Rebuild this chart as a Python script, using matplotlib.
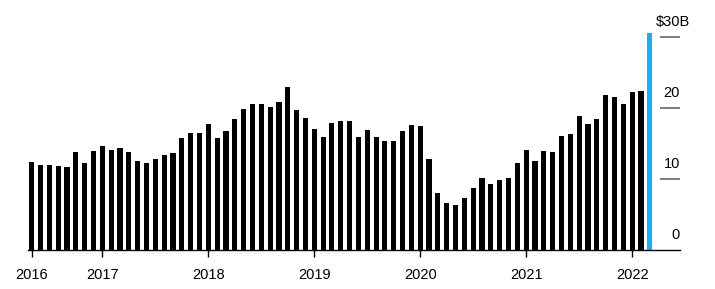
import numpy as np
import matplotlib.pyplot as plt

plt.rcParams['font.family'] = ['Liberation Sans', 'DejaVu Sans']

# monthly values, May 2016 - Mar 2022 ($B)
values = [12.4, 12.0, 12.0, 11.9, 11.7, 13.8, 12.3, 13.9,
          14.7, 14.1, 14.4, 13.8, 12.6, 12.2, 12.8, 13.4, 13.7, 15.8, 16.5, 16.5,
          17.7, 15.8, 16.7, 18.4, 19.9, 20.6, 20.6, 20.1, 20.9, 23.0, 19.7, 18.6,
          17.0, 15.9, 17.9, 18.2, 18.2, 15.9, 16.9, 15.9, 15.3, 15.4, 16.7, 17.6,
          17.4, 12.8, 8.0, 6.6, 6.4, 7.3, 8.8, 10.2, 9.3, 9.9, 10.2, 12.3,
          14.1, 12.6, 13.9, 13.8, 16.1, 16.4, 18.9, 17.7, 18.5, 21.9, 21.6, 20.6,
          22.3, 22.4, 30.5]
year_labels = ['2016', '2017', '2018', '2019', '2020', '2021', '2022']
year_pos = [0, 8, 20, 32, 44, 56, 68]
y_ticks = [0, 10, 20, 30]
y_labels = ['0', '10', '20', '$30B']

x = np.arange(len(values))
colors = ['black'] * (len(values) - 1) + ['#14afff']

fig = plt.figure(figsize=(7.15, 2.89), dpi=100)
ax = fig.add_axes([28 / 715, 39 / 289, (680 - 28) / 715, (250 - 20) / 289])

ax.bar(x, values, width=0.58, color=colors, zorder=2)

ax.set_xlim(-0.42, 73.42)
ax.set_ylim(0, 32.4)

# short gridlines on the right, labels above them
for v, lab in zip(y_ticks, y_labels):
    if v > 0:
        ax.hlines(v, 71.2, 73.42, color='#666666', linewidth=1.2)
    if lab.startswith('$'):
        ax.text(70.7, v + 1.1, lab, ha='left', va='bottom', fontsize=10.5)
    else:
        ax.text(73.42, v + 1.1, lab, ha='right', va='bottom', fontsize=10.5)

for s in ['top', 'right', 'left']:
    ax.spines[s].set_visible(False)
ax.spines['bottom'].set_color('black')
ax.spines['bottom'].set_linewidth(1.0)

ax.set_yticks([])
ax.set_xticks(year_pos)
ax.set_xticklabels(year_labels, fontsize=10.5)
ax.tick_params(axis='x', length=5, width=1, color='black', pad=8)

plt.savefig('out.png', dpi=100)
